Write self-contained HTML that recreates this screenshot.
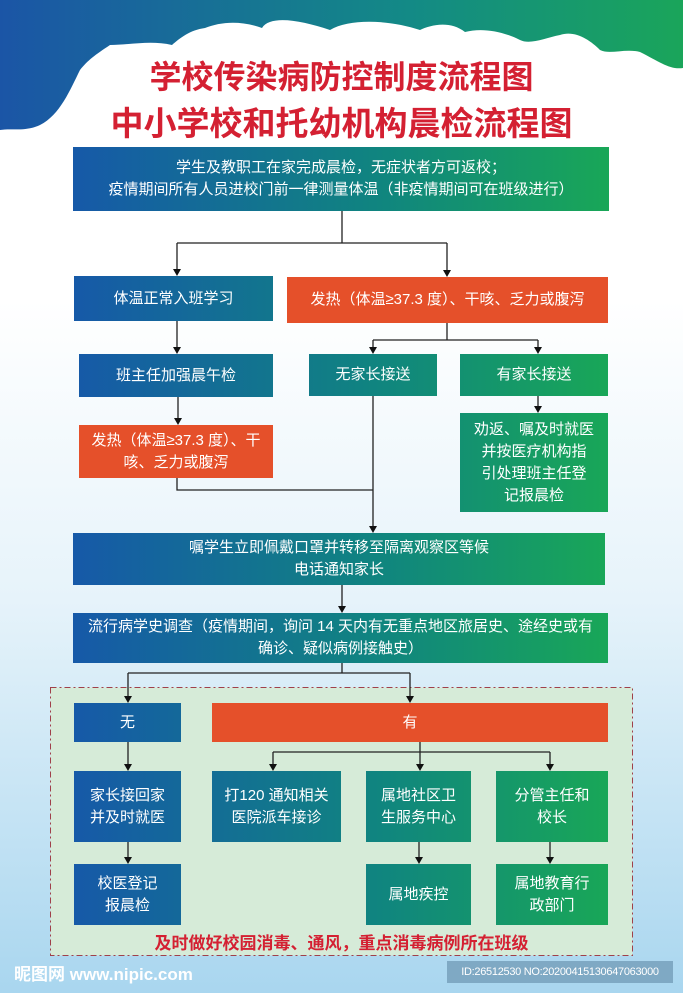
<!DOCTYPE html>
<html><head><meta charset="utf-8"><style>
body{margin:0;width:683px;height:993px;overflow:hidden;position:relative;font-family:"Liberation Sans","Noto Sans CJK SC",sans-serif;background:linear-gradient(180deg,#fff 0,#fff 300px,#e6f3fa 600px,#a9d6ef 993px);}
.b{position:absolute;color:#fff;display:flex;align-items:center;justify-content:center;text-align:center;font-size:15px;line-height:22px;background:linear-gradient(90deg,#1659a8 73px,#10857f 380px,#19a757 610px);background-attachment:fixed;}
.o{background:#e5502a!important;}
.t{position:absolute;left:0;width:683px;text-align:center;color:#d42032;font-weight:bold;}
svg{position:absolute;left:0;top:0;}
</style></head><body>
<svg width="683" height="993">
<defs><linearGradient id="c" x1="0" x2="1"><stop offset="0" stop-color="#1b55a6"/><stop offset="0.6" stop-color="#138a86"/><stop offset="1" stop-color="#1aa55a"/></linearGradient></defs>
<path d="M0 0H683V68C670 70 660 62 640 52C625 48 610 55 600 50C590 40 575 30 560 35C545 38 530 45 520 40C500 30 480 28 465 32C450 20 430 25 420 30C390 20 350 18 330 30C300 20 270 15 262 28C240 20 220 22 205 28C190 30 180 38 172 45C150 40 130 45 110 45C95 55 88 60 80 70C70 90 60 115 40 125C25 132 12 128 0 130Z" fill="url(#c)"/>
<rect x="50.5" y="687.5" width="582" height="268" fill="#d6ebd8" stroke="#a0404a" stroke-dasharray="6 3 2 3"/>
<g stroke="#222" stroke-width="1.3" fill="none">
<path d="M342 211V243M177 243H447M177 243V270M447 243V271M177 321V348M447 323V340M373 340H538M373 340V348M538 340V348M178 397V419M538 396V407M177 478V490H373M373 396V527M342 585V607M342 663V673M128 673H410M128 673V697M410 673V697M128 742V765M128 842V858M420 742V752M273 752H550M273 752V765M420 752V765M550 752V765M419 842V858M550 842V858"/>
</g>
<g fill="#111">
<path d="M173 269h8l-4 7zM443 270h8l-4 7zM173 347h8l-4 7zM369 347h8l-4 7zM534 347h8l-4 7zM174 418h8l-4 7zM534 406h8l-4 7zM369 526h8l-4 7zM338 606h8l-4 7zM124 696h8l-4 7zM406 696h8l-4 7zM124 764h8l-4 7zM124 857h8l-4 7zM269 764h8l-4 7zM416 764h8l-4 7zM546 764h8l-4 7zM415 857h8l-4 7zM546 857h8l-4 7z"/>
</g>
</svg>
<div class="t" style="top:52px;font-size:32px;">学校传染病防控制度流程图</div>
<div class="t" style="top:97px;font-size:33px;">中小学校和托幼机构晨检流程图</div>
<div class="b" style="left:73px;top:147px;width:536px;height:64px;">学生及教职工在家完成晨检，无症状者方可返校；<br>疫情期间所有人员进校门前一律测量体温（非疫情期间可在班级进行）</div>
<div class="b" style="left:74px;top:276px;width:199px;height:45px;">体温正常入班学习</div>
<div class="b o" style="left:287px;top:277px;width:321px;height:46px;">发热（体温≥37.3 度）、干咳、乏力或腹泻</div>
<div class="b" style="left:79px;top:354px;width:194px;height:43px;">班主任加强晨午检</div>
<div class="b" style="left:309px;top:354px;width:128px;height:42px;">无家长接送</div>
<div class="b" style="left:460px;top:354px;width:148px;height:42px;">有家长接送</div>
<div class="b o" style="left:79px;top:425px;width:194px;height:53px;">发热（体温≥37.3 度）、干<br>咳、乏力或腹泻</div>
<div class="b" style="left:460px;top:413px;width:148px;height:99px;">劝返、嘱及时就医<br>并按医疗机构指<br>引处理班主任登<br>记报晨检</div>
<div class="b" style="left:73px;top:533px;width:532px;height:52px;">嘱学生立即佩戴口罩并转移至隔离观察区等候<br>电话通知家长</div>
<div class="b" style="left:73px;top:613px;width:535px;height:50px;">流行病学史调查（疫情期间，询问 14 天内有无重点地区旅居史、途经史或有<br>确诊、疑似病例接触史）</div>
<div class="b" style="left:74px;top:703px;width:107px;height:39px;">无</div>
<div class="b o" style="left:212px;top:703px;width:396px;height:39px;">有</div>
<div class="b" style="left:74px;top:771px;width:107px;height:71px;">家长接回家<br>并及时就医</div>
<div class="b" style="left:74px;top:864px;width:107px;height:61px;">校医登记<br>报晨检</div>
<div class="b" style="left:212px;top:771px;width:129px;height:71px;">打120 通知相关<br>医院派车接诊</div>
<div class="b" style="left:366px;top:771px;width:105px;height:71px;">属地社区卫<br>生服务中心</div>
<div class="b" style="left:496px;top:771px;width:112px;height:71px;">分管主任和<br>校长</div>
<div class="b" style="left:366px;top:864px;width:105px;height:61px;">属地疾控</div>
<div class="b" style="left:496px;top:864px;width:112px;height:61px;">属地教育行<br>政部门</div>
<div class="t" style="top:929px;font-size:17px;left:0;">及时做好校园消毒、通风，重点消毒病例所在班级</div>
<div style="position:absolute;left:14px;top:960px;color:#fff;font-size:17px;font-weight:bold;">昵图网 www.nipic.com</div>
<div style="position:absolute;left:447px;top:961px;width:226px;height:22px;background:#7fa9c4;color:#fff;font-size:11px;line-height:22px;text-align:center;white-space:nowrap;overflow:hidden;letter-spacing:-0.3px;">ID:26512530 NO:20200415130647063000</div>
</body></html>
